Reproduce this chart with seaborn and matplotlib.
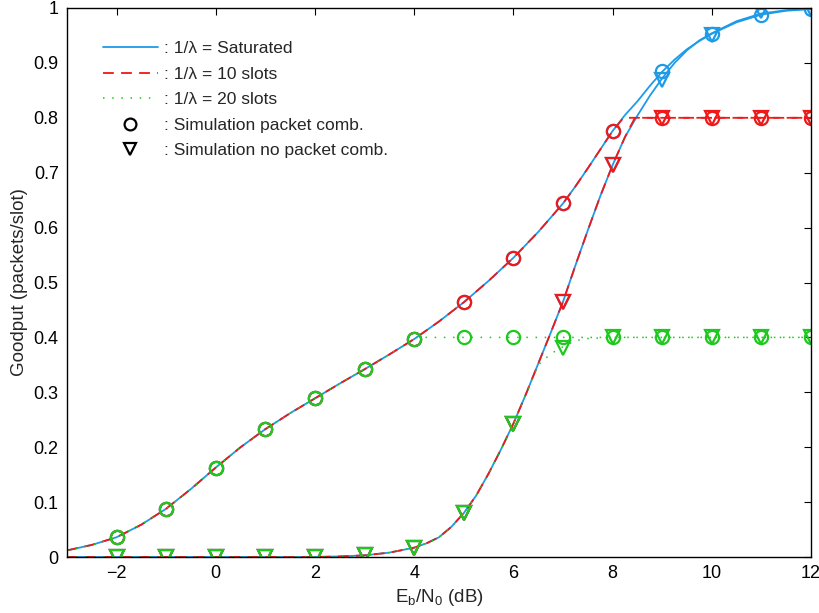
import numpy as np
import pandas as pd
import matplotlib
matplotlib.use("Agg")
import matplotlib.pyplot as plt
import seaborn as sns
from matplotlib.lines import Line2D

# ---------------- data ----------------
# theory curves
x_comb = [-3, -2.5, -2, -1.5, -1, -0.5, 0, 0.5, 1, 1.5, 2, 2.5, 3, 3.5, 4, 4.5,
          5, 5.5, 6, 6.5, 7, 7.25, 7.5, 7.75, 8, 8.25, 8.5, 8.75, 9, 9.25, 9.5,
          9.75, 10, 10.5, 11, 11.5, 12]
sat_comb = [0.012, 0.022, 0.036, 0.059, 0.088, 0.124, 0.163, 0.200, 0.233, 0.262,
            0.289, 0.316, 0.342, 0.369, 0.397, 0.429, 0.464, 0.503, 0.545, 0.592,
            0.644, 0.675, 0.708, 0.742, 0.776, 0.805, 0.830, 0.858, 0.884, 0.906,
            0.925, 0.940, 0.953, 0.974, 0.988, 0.995, 0.998]
x_nocomb = [-3, -2, -1, 0, 1, 2, 2.5, 3, 3.5, 4, 4.25, 4.5, 4.75, 5, 5.25, 5.5, 5.75,
            6, 6.25, 6.5, 6.75, 7, 7.25, 7.5, 7.75, 8, 8.25, 8.5, 8.75, 9, 9.25, 9.5,
            9.75, 10, 10.5, 11, 11.5, 12]
sat_nocomb = [0.0, 0.0, 0.0, 0.0, 0.0, 0.0, 0.001, 0.003, 0.008, 0.017, 0.025, 0.036,
              0.055, 0.080, 0.112, 0.152, 0.196, 0.243, 0.296, 0.352, 0.408, 0.465,
              0.531, 0.595, 0.657, 0.714, 0.765, 0.804, 0.840, 0.872, 0.900, 0.923,
              0.941, 0.954, 0.976, 0.990, 0.996, 0.999]

x_s10_comb = [-3, -2.5, -2, -1.5, -1, -0.5, 0, 0.5, 1, 1.5, 2, 2.5, 3, 3.5, 4, 4.5,
              5, 5.5, 6, 6.5, 7, 7.25, 7.5, 7.75, 8, 8.22, 9, 10, 11, 12]
s10_comb = [0.012, 0.022, 0.036, 0.059, 0.088, 0.124, 0.163, 0.200, 0.233, 0.262,
            0.289, 0.316, 0.342, 0.369, 0.397, 0.429, 0.464, 0.503, 0.545, 0.592,
            0.644, 0.675, 0.708, 0.742, 0.776, 0.800, 0.800, 0.800, 0.800, 0.800]
x_s10_nocomb = [-3, -2, -1, 0, 1, 2, 2.5, 3, 3.5, 4, 4.25, 4.5, 4.75, 5, 5.25, 5.5,
                5.75, 6, 6.25, 6.5, 6.75, 7, 7.25, 7.5, 7.75, 8, 8.25, 8.45, 9, 10,
                11, 12]
s10_nocomb = [0.0, 0.0, 0.0, 0.0, 0.0, 0.0, 0.001, 0.003, 0.008, 0.017, 0.025, 0.036,
              0.055, 0.080, 0.112, 0.152, 0.196, 0.243, 0.296, 0.352, 0.408, 0.465,
              0.531, 0.595, 0.657, 0.714, 0.765, 0.800, 0.800, 0.800, 0.800, 0.800]

x_s20_comb = [-3, -2.5, -2, -1.5, -1, -0.5, 0, 0.5, 1, 1.5, 2, 2.5, 3, 3.5, 4, 4.05,
              5, 6, 7, 8, 9, 10, 11, 12]
s20_comb = [0.012, 0.022, 0.036, 0.059, 0.088, 0.124, 0.163, 0.200, 0.233, 0.262,
            0.289, 0.316, 0.342, 0.369, 0.397, 0.400, 0.400, 0.400, 0.400, 0.400,
            0.400, 0.400, 0.400, 0.400]
x_s20_nocomb = [-3, -2, -1, 0, 1, 2, 2.5, 3, 3.5, 4, 4.25, 4.5, 4.75, 5, 5.25, 5.5,
                5.75, 6, 6.25, 6.5, 6.75, 7, 7.25, 7.5, 8, 9, 10, 11, 12]
s20_nocomb = [0.0, 0.0, 0.0, 0.0, 0.0, 0.0, 0.001, 0.003, 0.008, 0.017, 0.025, 0.036,
              0.055, 0.080, 0.112, 0.152, 0.196, 0.243, 0.296, 0.350, 0.370, 0.383,
              0.394, 0.398, 0.400, 0.400, 0.400, 0.400, 0.400]

# simulation points
x_sim = [-2, -1, 0, 1, 2, 3, 4, 5, 6, 7, 8, 9, 10, 11, 12]
sim_sat_comb = [0.036, 0.088, 0.163, 0.233, 0.289, 0.342, 0.397, 0.464, 0.545, 0.644,
                0.776, 0.886, 0.953, 0.987, 0.998]
sim_sat_nocomb = [0.0, 0.0, 0.0, 0.0, 0.0, 0.003, 0.016, 0.080, 0.243, 0.465,
                  0.714, 0.869, 0.950, 0.994, 0.998]
sim_s10_comb = [0.036, 0.088, 0.163, 0.233, 0.289, 0.342, 0.397, 0.464, 0.545, 0.644,
                0.776, 0.800, 0.800, 0.800, 0.800]
sim_s10_nocomb = [0.0, 0.0, 0.0, 0.0, 0.0, 0.003, 0.016, 0.080, 0.243, 0.465,
                  0.714, 0.800, 0.800, 0.800, 0.800]
sim_s20_comb = [0.036, 0.088, 0.163, 0.233, 0.289, 0.342, 0.397, 0.400, 0.400, 0.400,
                0.400, 0.400, 0.400, 0.400, 0.400]
sim_s20_nocomb = [0.0, 0.0, 0.0, 0.0, 0.0, 0.003, 0.016, 0.080, 0.243, 0.381,
                  0.400, 0.400, 0.400, 0.400, 0.400]

x_ticks = [-2, 0, 2, 4, 6, 8, 10, 12]
x_ticklabels = ["\u22122", "0", "2", "4", "6", "8", "10", "12"]
y_ticks = [0, 0.1, 0.2, 0.3, 0.4, 0.5, 0.6, 0.7, 0.8, 0.9, 1.0]
y_ticklabels = ["0", "0.1", "0.2", "0.3", "0.4", "0.5", "0.6", "0.7", "0.8", "0.9", "1"]

legend_labels = [": 1/\u03bb = Saturated", ": 1/\u03bb = 10 slots", ": 1/\u03bb = 20 slots",
                 ": Simulation packet comb.", ": Simulation no packet comb."]

# ---------------- style ----------------
sns.set_theme(style="white")
plt.rcParams["font.family"] = ["Liberation Sans", "DejaVu Sans"]
plt.rcParams["mathtext.default"] = "regular"

BLUE = "#1e9be8"
RED = "#f01818"
GREEN = "#1ec81e"

fig = plt.figure(figsize=(8.2, 6.13), dpi=100)
ax = fig.add_axes([67 / 820, 56 / 613, 744 / 820, 549 / 613])

LW = 1.3
line_styles = {
    BLUE: dict(linestyle="-"),
    RED: dict(dashes=(6, 4)),
    GREEN: dict(dashes=(1, 5)),
}

def draw_line(x, y, color, lw=LW):
    sns.lineplot(x=x, y=y, ax=ax, color=color, lw=lw, estimator=None, sort=False,
                 **line_styles[color])

def draw_markers(x, y, color, marker):
    sns.lineplot(x=x, y=y, ax=ax, color=color, estimator=None, sort=False,
                 linestyle="none", marker=marker, markersize=9.5,
                 markerfacecolor="none", markeredgecolor=color, markeredgewidth=1.6)

# saturated
draw_line(x_comb, sat_comb, BLUE)
draw_line(x_nocomb, sat_nocomb, BLUE)
draw_markers(x_sim, sim_sat_comb, BLUE, "o")
draw_markers(x_sim, sim_sat_nocomb, BLUE, "v")
# 10 slots
draw_line(x_s10_comb, s10_comb, RED)
draw_line(x_s10_nocomb, s10_nocomb, RED)
draw_markers(x_sim, sim_s10_comb, RED, "o")
draw_markers(x_sim, sim_s10_nocomb, RED, "v")
# 20 slots
draw_line(x_s20_comb, s20_comb, GREEN, lw=1.1)
draw_line(x_s20_nocomb, s20_nocomb, GREEN, lw=1.1)
draw_markers(x_sim, sim_s20_comb, GREEN, "o")
draw_markers(x_sim, sim_s20_nocomb, GREEN, "v")

ax.set_xlim(-3, 12)
ax.set_ylim(0, 1)
ax.set_xticks(x_ticks)
ax.set_xticklabels(x_ticklabels)
ax.set_yticks(y_ticks)
ax.set_yticklabels(y_ticklabels)
ax.tick_params(direction="in", length=5, width=0.8, top=True, right=True,
               labelsize=13, colors="black", pad=6)
for s in ax.spines.values():
    s.set_color("black")
    s.set_linewidth(1.0)
    s.set_visible(True)

ax.set_xlabel("E$_b$/N$_0$ (dB)", fontsize=13.5, labelpad=3)
ax.set_ylabel("Goodput (packets/slot)", fontsize=13.5, labelpad=4)

handles = [
    Line2D([], [], color=BLUE, lw=LW, linestyle="-"),
    Line2D([], [], color=RED, lw=LW, dashes=(6, 4)),
    Line2D([], [], color=GREEN, lw=1.1, dashes=(1, 5)),
    Line2D([], [], color="black", linestyle="none", marker="o", markersize=8.5,
           markerfacecolor="none", markeredgewidth=1.6),
    Line2D([], [], color="black", linestyle="none", marker="v", markersize=8.5,
           markerfacecolor="none", markeredgewidth=1.6),
]
ax.legend(handles, legend_labels, loc="upper left", bbox_to_anchor=(0.048, 0.940),
          frameon=False, fontsize=12.5, handlelength=3.2, handletextpad=0.35,
          labelspacing=0.6, borderpad=0, borderaxespad=0)

fig.savefig("out.png", dpi=100, facecolor="white")
